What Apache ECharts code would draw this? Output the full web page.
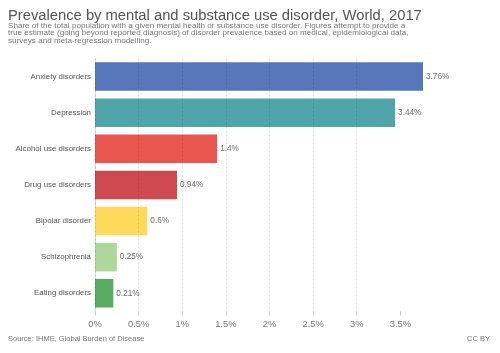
<!DOCTYPE html>
<html>
<head>
<meta charset="utf-8">
<script src="https://cdn.jsdelivr.net/npm/echarts@6/dist/echarts.min.js"></script>
<style>
  html, body { margin: 0; padding: 0; background: #fff; }
  #chart { width: 500px; height: 353px; }
</style>
</head>
<body>
<div id="chart"></div>
<script>
// categories, top to bottom
const categories = [
  "Anxiety disorders",
  "Depression",
  "Alcohol use disorders",
  "Drug use disorders",
  "Bipolar disorder",
  "Schizophrenia",
  "Eating disorders"
];
const values = [3.76, 3.44, 1.4, 0.94, 0.6, 0.25, 0.21];
const tickValues = [0, 0.5, 1, 1.5, 2, 2.5, 3, 3.5];
const colors = ["#4f6fb6", "#46a0a2", "#e84c46", "#cc3f47", "#fdd853", "#a9d596", "#50a65a"];

const chart = echarts.init(document.getElementById("chart"));
const font = "Liberation Sans, Arial, sans-serif";

chart.setOption({
  animation: false,
  textStyle: { fontFamily: font },
  title: [
    {
      text: "Prevalence by mental and substance use disorder, World, 2017",
      left: 8, top: 8, padding: 0,
      textStyle: { fontSize: 14.75, fontWeight: "normal", color: "#555", fontFamily: font }
    },
    {
      text: "Share of the total population with a given mental health or substance use disorder. Figures attempt to provide a\ntrue estimate (going beyond reported diagnosis) of disorder prevalence based on medical, epidemiological data,\nsurveys and meta-regression modelling.",
      left: 8, top: 21.5, padding: 0,
      textStyle: { fontSize: 8.1, lineHeight: 7.6, fontWeight: "normal", color: "#777", fontFamily: font }
    },
    {
      text: "Source: IHME, Global Burden of Disease",
      left: 8, top: 335, padding: 0,
      textStyle: { fontSize: 7.5, fontWeight: "normal", color: "#777", fontFamily: font }
    },
    {
      text: "CC BY",
      right: 10, top: 335, padding: 0,
      textStyle: { fontSize: 7.5, fontWeight: "normal", color: "#777", fontFamily: font }
    }
  ],
  grid: { left: 95, right: 77, top: 58.5, bottom: 41.7, containLabel: false },
  xAxis: {
    type: "value",
    z: 5,
    min: 0,
    max: 3.76,
    interval: 0.5,
    axisLine: { show: false },
    axisTick: { show: true, length: 4, lineStyle: { color: "#ccc" }, customValues: tickValues },
    axisLabel: {
      color: "#777", fontSize: 9.3, margin: 9,
      customValues: tickValues,
      formatter: (v) => v + "%"
    },
    splitLine: { show: true, showMaxLine: false, lineStyle: { color: "rgba(0,0,0,0.12)", type: [2, 2] } }
  },
  yAxis: {
    type: "category",
    inverse: true,
    data: categories,
    axisLine: { show: true, lineStyle: { color: "#ddd" } },
    axisTick: { show: false },
    axisLabel: { color: "#555", fontSize: 7.9, margin: 4 }
  },
  series: [
    {
      type: "bar",
      barCategoryGap: "21%",
      data: values.map((v, i) => ({ value: v, itemStyle: { color: colors[i], opacity: 0.95 } })),
      label: {
        show: true,
        position: "right",
        distance: 3,
        color: "#666",
        fontSize: 8.2,
        formatter: (p) => p.value + "%"
      }
    }
  ]
});
</script>
</body>
</html>
